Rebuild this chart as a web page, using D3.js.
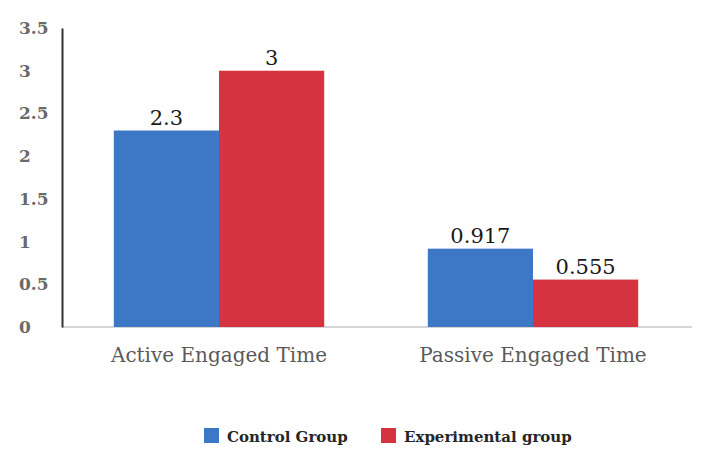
<!DOCTYPE html>
<html>
<head>
<meta charset="utf-8">
<script src="https://cdn.jsdelivr.net/npm/d3@7"></script>
<style>
  html, body { margin: 0; padding: 0; background: #fff; }
  svg { display: block; }
</style>
</head>
<body>
<svg id="chart" width="705" height="449"></svg>
<script>
// Engaged time by group
const categories = ["Active Engaged Time", "Passive Engaged Time"];
const seriesNames = ["Control Group", "Experimental group"];
const controlValues = [2.3, 0.917];
const experimentalValues = [3, 0.555];
const valueLabels = [["2.3", "3"], ["0.917", "0.555"]];
const yTicks = [0, 0.5, 1, 1.5, 2, 2.5, 3, 3.5];
const colors = ["#3d78c6", "#d5333f"];

const font = "'DejaVu Serif', 'Liberation Serif', serif";
const svg = d3.select("#chart");

const plot = { left: 62, right: 690, top: 28, bottom: 327 };

const y = d3.scaleLinear().domain([0, 3.5]).range([plot.bottom, plot.top]);
const x0 = d3.scaleBand().domain(categories).range([plot.left, plot.right])
  .paddingInner(0.33).paddingOuter(0.165);
const x1 = d3.scaleBand().domain(seriesNames).range([0, x0.bandwidth()]);

const rows = categories.map((c, i) => ({
  category: c,
  values: [controlValues[i], experimentalValues[i]],
  labels: valueLabels[i]
}));

// horizontal baseline
svg.append("line")
  .attr("x1", plot.left).attr("x2", plot.right + 2)
  .attr("y1", y(0)).attr("y2", y(0))
  .attr("stroke", "#c8c8c8").attr("stroke-width", 1.5);

// bars
const groups = svg.selectAll("g.grp").data(rows).join("g")
  .attr("class", "grp")
  .attr("transform", d => `translate(${x0(d.category)},0)`);

groups.selectAll("rect").data(d => d.values.map((v, j) => ({ v, j, label: d.labels[j] })))
  .join("rect")
  .attr("x", d => x1(seriesNames[d.j]))
  .attr("width", x1.bandwidth())
  .attr("y", d => y(d.v))
  .attr("height", d => y(0) - y(d.v))
  .attr("fill", d => colors[d.j]);

groups.selectAll("text.val").data(d => d.values.map((v, j) => ({ v, j, label: d.labels[j] })))
  .join("text")
  .attr("class", "val")
  .attr("x", d => x1(seriesNames[d.j]) + x1.bandwidth() / 2)
  .attr("y", d => y(d.v) - 6)
  .attr("text-anchor", "middle")
  .attr("font-family", font)
  .attr("font-size", 21)
  .attr("fill", "#1a1a1a")
  .text(d => d.label);

// y axis
const yAxis = d3.axisLeft(y).tickValues(yTicks).tickSize(0).tickPadding(0)
  .tickFormat(d => d3.format("")(d));
const ya = svg.append("g").attr("transform", `translate(${plot.left},0)`).call(yAxis);
ya.select(".domain").attr("stroke", "#333").attr("stroke-width", 2);
ya.selectAll("text")
  .attr("x", -43)
  .attr("text-anchor", "start")
  .attr("font-family", font)
  .attr("font-size", 17)
  .attr("font-weight", "bold")
  .attr("fill", "#6a6a6a");

// category labels
svg.selectAll("text.cat").data(categories).join("text")
  .attr("class", "cat")
  .attr("x", d => x0(d) + x0.bandwidth() / 2)
  .attr("y", 362)
  .attr("text-anchor", "middle")
  .attr("font-family", font)
  .attr("font-size", 20)
  .attr("fill", "#5a5a5a")
  .text(d => d);

// legend
const legendX = [204, 381];
const lg = svg.selectAll("g.leg").data(seriesNames).join("g")
  .attr("class", "leg")
  .attr("transform", (d, i) => `translate(${legendX[i]},428)`);
lg.append("rect").attr("width", 15).attr("height", 15).attr("fill", (d, i) => colors[i]);
lg.append("text")
  .attr("x", 23).attr("y", 14)
  .attr("font-family", font)
  .attr("font-size", 15)
  .attr("font-weight", "bold")
  .attr("fill", "#262626")
  .text(d => d);
</script>
</body>
</html>
